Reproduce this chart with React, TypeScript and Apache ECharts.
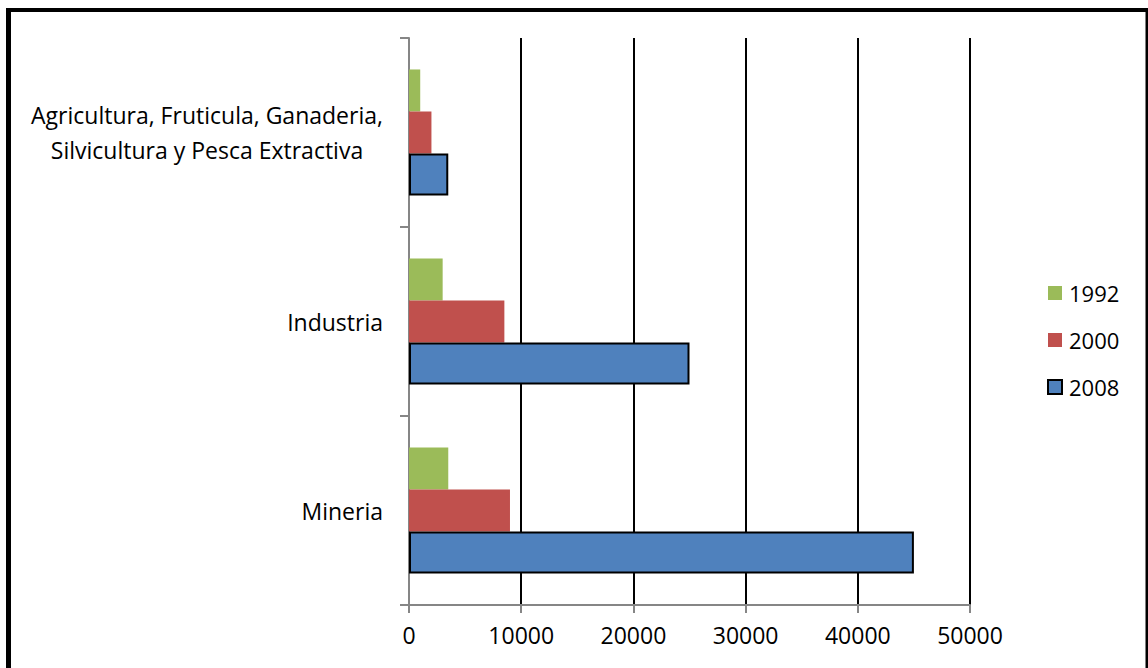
import React, { useEffect, useRef } from "react";
import * as echarts from "echarts";

const categories = [
  "Mineria",
  "Industria",
  "Agricultura, Fruticula, Ganaderia,\nSilvicultura y Pesca Extractiva",
];
const seriesNames = ["1992", "2000", "2008"];
const values1992 = [3500, 3000, 1000];
const values2000 = [9000, 8500, 2000];
const values2008 = [45000, 25000, 3500];
const xTicks = [0, 10000, 20000, 30000, 40000, 50000];

const FONT = "'Open Sans', Lato, sans-serif";
const FS = 23;

export default function App() {
  const ref = useRef<HTMLDivElement>(null);
  useEffect(() => {
    if (!ref.current) return;
    const chart = echarts.init(ref.current, undefined, { renderer: "svg" });
    const colors = ["#9BBB59", "#C0504D", "#4F81BD"];
    const data = [values1992, values2000, values2008];
    chart.setOption({
      animation: false,
      backgroundColor: "#ffffff",
      textStyle: { fontFamily: FONT },
      grid: { left: 409, right: 178, top: 38, bottom: 63, containLabel: false },
      legend: {
        orient: "vertical",
        left: 1047,
        top: 281,
        padding: 0,
        itemWidth: 14,
        itemHeight: 14,
        itemGap: 23,
        icon: "rect",
        textStyle: {
          fontSize: 22,
          lineHeight: 24,
          color: "#000",
          fontFamily: FONT,
          padding: [0, 0, 0, 2],
        },
        data: seriesNames.map((n, i) => ({
          name: n,
          itemStyle:
            i === 2
              ? { color: colors[i], borderColor: "#000", borderWidth: 2 }
              : { color: colors[i], borderWidth: 0 },
        })),
      },
      xAxis: {
        type: "value",
        min: 0,
        max: 50000,
        interval: 10000,
        axisLine: { show: true, lineStyle: { color: "#868686", width: 2 } },
        axisTick: { show: true, length: 8, lineStyle: { color: "#868686", width: 2 } },
        axisLabel: {
          fontSize: FS,
          color: "#000",
          fontFamily: FONT,
          margin: 18,
          formatter: (v: number) => (xTicks.includes(v) ? String(v) : ""),
        },
        splitLine: { show: true, lineStyle: { color: "#000", width: 2 } },
      },
      yAxis: {
        type: "category",
        data: categories,
        axisLine: { show: true, lineStyle: { color: "#868686", width: 2 } },
        axisTick: { show: true, length: 9, lineStyle: { color: "#868686", width: 2 } },
        axisLabel: {
          color: "#000",
          fontFamily: FONT,
          fontSize: FS,
          margin: 26,
          align: "right",
          formatter: (v: string) =>
            v
              .split("\n")
              .map((line) => (v.includes("\n") ? `{c|${line}}` : `{r|${line}}`))
              .join("\n"),
          rich: {
            c: {
              width: 352,
              align: "center",
              fontSize: FS,
              lineHeight: 35,
              color: "#000",
              fontFamily: FONT,
            },
            r: {
              fontSize: FS,
              lineHeight: 35,
              color: "#000",
              fontFamily: FONT,
            },
          },
        },
        splitLine: { show: false },
      },
      series: seriesNames.map((n, i) => ({
        name: n,
        type: "bar",
        data: data[i],
        barGap: "0%",
        barCategoryGap: "33.3%",
        itemStyle:
          i === 2
            ? { color: colors[i], borderColor: "#000", borderWidth: 2 }
            : { color: colors[i], borderWidth: 0 },
      })),
      graphic: [
        { type: "line", shape: { x1: 8.5, y1: 8, x2: 8.5, y2: 668 }, style: { stroke: "#000", lineWidth: 5 } },
        { type: "line", shape: { x1: 6, y1: 10, x2: 1148, y2: 10 }, style: { stroke: "#000", lineWidth: 4 } },
        { type: "line", shape: { x1: 1147, y1: 8, x2: 1147, y2: 668 }, style: { stroke: "#000", lineWidth: 3 } },
      ],
    });
    return () => chart.dispose();
  }, []);
  return (
    <div
      ref={ref}
      style={{ position: "fixed", left: 0, top: 0, width: 1148, height: 668 }}
    />
  );
}
